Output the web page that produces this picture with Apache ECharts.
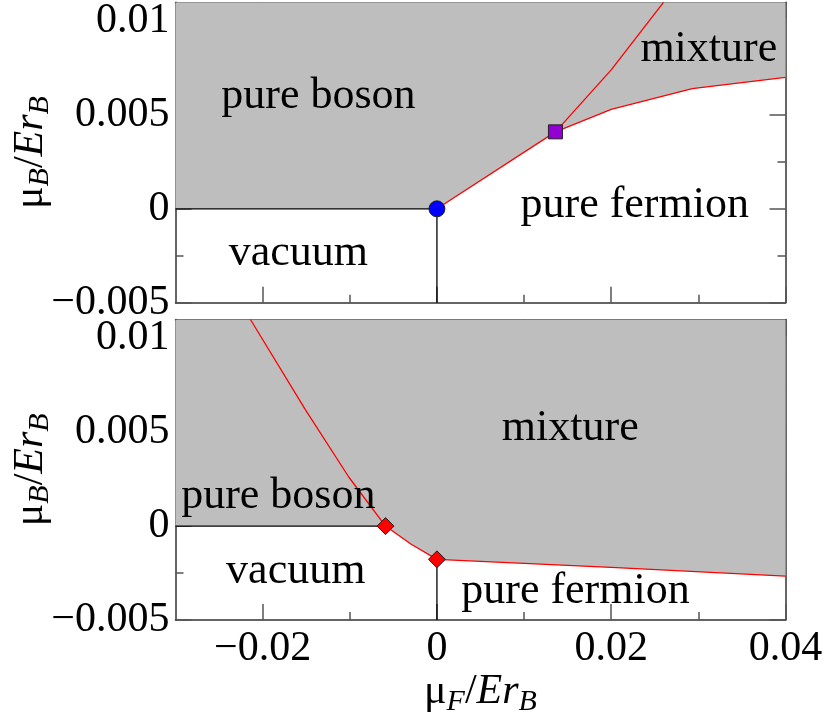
<!DOCTYPE html>
<html>
<head>
<meta charset="utf-8">
<script src="https://cdn.jsdelivr.net/npm/echarts@6/dist/echarts.min.js"></script>
<style>
  html, body { margin: 0; padding: 0; background: #fff; }
  #main { width: 830px; height: 716px; }
</style>
</head>
<body>
<div id="main"></div>
<script>
  // tick positions
  var xMajor = [-0.02, 0, 0.02, 0.04];
  var xMinor = [-0.01, 0.01, 0.03];
  var yMajor = [-0.005, 0, 0.005, 0.01];
  var yMinor = [-0.0025, 0.0025, 0.0075];

  // top panel
  var topBoundary = [[-0.03, 0], [0, 0], [0.0136, 0.0041], [0.02, 0.0053], [0.0293, 0.0064], [0.04, 0.0070]];
  var topRedLower = [[0, 0], [0.0136, 0.0041], [0.02, 0.0053], [0.0293, 0.0064], [0.04, 0.0070]];
  var topRedUpper = [[0.0136, 0.0041], [0.02, 0.0074], [0.026, 0.011]];
  var topZeroLine = [[-0.03, 0], [0, 0]];
  var topVLine = [[0, -0.005], [0, 0]];
  var topCircle = [[0, 0]];
  var topSquare = [[0.0136, 0.0041]];

  // bottom panel
  var botBoundary = [[-0.03, 0], [-0.0059, 0], [-0.003, -0.00095], [0, -0.00177], [0.02, -0.0022], [0.04, -0.00266]];
  var botRedLeft = [[-0.0214, 0.011], [-0.0151, 0.0062], [-0.0101, 0.0026], [-0.0059, 0], [-0.003, -0.00095], [0, -0.00177]];
  var botRedRight = [[0, -0.00177], [0.02, -0.0022], [0.04, -0.00266]];
  var botZeroLine = [[-0.03, 0], [-0.0059, 0]];
  var botVLine = [[0, -0.005], [0, -0.00177]];
  var botDiamonds = [[-0.0059, 0], [0, -0.00177]];

  var serif = "'Liberation Serif', 'DejaVu Serif', serif";
  var titleRich = {
    a: {fontFamily: serif, fontSize: 42, color: '#000'},
    c: {fontFamily: serif, fontSize: 42, fontStyle: 'italic', color: '#000'},
    b: {fontFamily: serif, fontSize: 30, fontStyle: 'italic', color: '#000', padding: [20, 0, 0, 0]}
  };

  function fmt(v) {
    return v === 0 ? '0' : String(v).replace('-', '\u2212');
  }

  var xAxes = [], yAxes = [];
  function addAxes(gi) {
    [['bottom', xMajor, 16], ['bottom', xMinor, 8], ['top', xMajor, 16], ['top', xMinor, 8]].forEach(function (d, k) {
      var ax = {
        type: 'value', gridIndex: gi, position: d[0], min: -0.03, max: 0.04,
        axisLine: {show: k === 0 || k === 2, onZero: false, lineStyle: {color: '#333', width: 1.5}},
        axisTick: {inside: true, length: d[2], customValues: d[1], lineStyle: {color: '#555', width: 1.5}},
        axisLabel: {show: false},
        splitLine: {show: false}
      };
      if (gi === 1 && k === 0) {
        ax.axisLabel = {show: true, customValues: xMajor, formatter: fmt, fontFamily: serif, fontSize: 42, color: '#000', margin: 8};
        ax.name = '{a|\u03bc}{b|F}{a|/}{c|Er}{b|B}';
        ax.nameLocation = 'middle';
        ax.nameGap = 46;
        ax.nameTextStyle = {rich: titleRich};
      }
      xAxes.push(ax);
    });
    [['left', yMajor, 16], ['left', yMinor, 8], ['right', yMajor, 16], ['right', yMinor, 8]].forEach(function (d, k) {
      var ax = {
        type: 'value', gridIndex: gi, position: d[0], min: -0.005, max: 0.011,
        axisLine: {show: k === 0 || k === 2, onZero: false, lineStyle: {color: '#333', width: 1.5}},
        axisTick: {inside: true, length: d[2], customValues: d[1], lineStyle: {color: '#555', width: 1.5}},
        axisLabel: {show: false},
        splitLine: {show: false}
      };
      if (k === 0) {
        ax.axisLabel = {show: true, customValues: yMajor, formatter: fmt, fontFamily: serif, fontSize: 42, color: '#000', margin: 6};
        ax.name = '{a|\u03bc}{b|B}{a|/}{c|Er}{b|B}';
        ax.nameLocation = 'middle';
        ax.nameRotate = 90;
        ax.nameGap = 120;
        ax.nameMoveOverlap = false;
        ax.nameTextStyle = {rich: titleRich};
      }
      yAxes.push(ax);
    });
  }
  addAxes(0);
  addAxes(1);

  function fill(gi, data) {
    return {type: 'line', xAxisIndex: gi * 4, yAxisIndex: gi * 4, data: data, showSymbol: false, z: 1,
      lineStyle: {width: 0}, areaStyle: {color: '#bebebe', opacity: 1, origin: 'end'}};
  }
  function line(gi, data, color, w) {
    return {type: 'line', xAxisIndex: gi * 4, yAxisIndex: gi * 4, data: data, showSymbol: false, z: 3,
      lineStyle: {color: color, width: w}};
  }
  function marker(gi, data, symbol, size, color) {
    return {type: 'scatter', xAxisIndex: gi * 4, yAxisIndex: gi * 4, data: data, symbol: symbol, symbolSize: size, z: 5,
      itemStyle: {color: color, borderColor: '#222', borderWidth: 1, opacity: 1}};
  }
  function texts(gi, items) {
    return {type: 'scatter', xAxisIndex: gi * 4, yAxisIndex: gi * 4, symbolSize: 0, z: 6, silent: true,
      itemStyle: {opacity: 1},
      data: items.map(function (t) { return {name: t[0], value: [t[1], t[2]]}; }),
      label: {show: true, position: 'inside', formatter: '{b}', fontFamily: serif, fontSize: 44, color: '#000'}};
  }

  var myChart = echarts.init(document.getElementById('main'));
  myChart.setOption({
    animation: false,
    backgroundColor: '#fff',
    grid: [
      {left: 175.5, top: 2.3, width: 610, height: 300.4, containLabel: false, outerBoundsMode: 'none'},
      {left: 175.5, top: 319.5, width: 610, height: 300.5, containLabel: false, outerBoundsMode: 'none'}
    ],
    xAxis: xAxes,
    yAxis: yAxes,
    series: [
      fill(0, topBoundary),
      line(0, topZeroLine, '#000', 1.3),
      line(0, topVLine, '#000', 1.3),
      line(0, topRedLower, '#ff0000', 1.3),
      line(0, topRedUpper, '#ff0000', 1.3),
      marker(0, topCircle, 'circle', 16, '#0000ff'),
      marker(0, topSquare, 'rect', 14, '#9400d3'),
      texts(0, [['pure boson', -0.0136, 0.0060], ['vacuum', -0.0159, -0.0024], ['pure fermion', 0.0227, 0.0002], ['mixture', 0.0312, 0.0085]]),

      fill(1, botBoundary),
      line(1, botZeroLine, '#000', 1.3),
      line(1, botVLine, '#000', 1.3),
      line(1, botRedLeft, '#ff0000', 1.3),
      line(1, botRedRight, '#ff0000', 1.3),
      marker(1, botDiamonds, 'diamond', 17, '#ff0000'),
      texts(1, [['pure boson', -0.0182, 0.0016], ['vacuum', -0.0162, -0.0024], ['mixture', 0.0153, 0.0052], ['pure fermion', 0.0159, -0.0035]])
    ]
  });
</script>
</body>
</html>
